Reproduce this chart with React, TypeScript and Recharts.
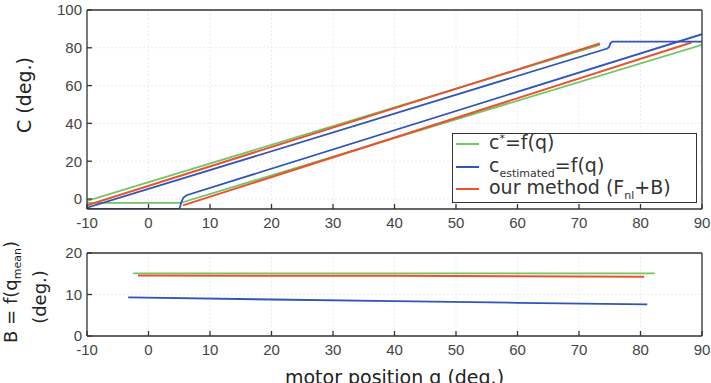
import React from 'react';
import { LineChart, Line, XAxis, YAxis, CartesianGrid, Legend } from 'recharts';

// Hysteresis branches: motor position q (deg.) against joint angle C (deg.)
const cStarUpperQ = [-10, 73.4];
const cStarUpperC = [-1.0, 81.5];
const cStarLowerQ = [-10, 5.3, 5.7, 90];
const cStarLowerC = [-2.1, -2.1, -1.6, 81.6];

const cEstUpperQ = [-10, 74.6, 74.9, 75.1, 75.4, 90];
const cEstUpperC = [-4.6, 79.6, 80.4, 82.4, 83.3, 83.3];
const cEstLowerQ = [-10, 5.0, 5.15, 5.35, 5.7, 6.2, 90];
const cEstLowerC = [-5.3, -5.3, -4.0, -1.5, 0.8, 2.0, 87.2];

const oursUpperQ = [-10, 73.4];
const oursUpperC = [-3.3, 82.3];
const oursLowerQ = [5.6, 88.3];
const oursLowerC = [-3.4, 82.8];

// Backlash B as a function of the mean motor position
const bStarQ = [-2.5, 82.3];
const bStarV = [15.1, 15.1];
const bEstQ = [-3.3, 20, 40, 60, 81.1];
const bEstV = [9.3, 8.8, 8.4, 8.0, 7.6];
const bOursQ = [-1.7, 20, 40, 60, 80.6];
const bOursV = [14.6, 14.5, 14.5, 14.4, 14.3];

const qTicks = [-10, 0, 10, 20, 30, 40, 50, 60, 70, 80, 90];
const cTicks = [0, 20, 40, 60, 80, 100];
const bTicks = [0, 10, 20];

const qDomain: [number, number] = [-10, 90];
const cDomain: [number, number] = [-5.3, 100];
const bDomain: [number, number] = [0, 20];

const GREEN = '#72c466';
const BLUE = '#2f55b8';
const RED = '#e9532c';
const AXIS = '#333333';

const toPoints = (q: number[], v: number[]) => q.map((x, i) => ({ q: x, v: v[i] }));

const tickFont = { fill: '#444444', fontSize: 15, fontFamily: 'Liberation Sans, Arial, sans-serif' };
const titleFont: React.CSSProperties = {
  fontFamily: 'DejaVu Sans, sans-serif',
  fontSize: 19,
  fill: '#222222',
};

const CTitle = () => (
  <text transform="rotate(-90 31 95)" x={31} y={95} textAnchor="middle" style={titleFont}>
    C (deg.)
  </text>
);

const BTitle = () => (
  <g>
    <text transform="rotate(-90 17 64)" x={17} y={64} textAnchor="middle" style={{ ...titleFont, fontSize: 18 }}>
      B = f(q<tspan fontSize={11} dy={4}>mean</tspan>
      <tspan dy={-4}>)</tspan>
    </text>
    <text transform="rotate(-90 46 69)" x={46} y={69} textAnchor="middle" style={{ ...titleFont, fontSize: 18 }}>
      (deg.)
    </text>
  </g>
);

const QTitle = (props: any) => {
  const vb = props.viewBox || { x: 87, y: 108, width: 615, height: 47 };
  return (
    <text x={vb.x + vb.width / 2} y={vb.y + vb.height + 1} textAnchor="middle" style={titleFont}>
      motor position q (deg.)
    </text>
  );
};

const legendRows = [
  { color: GREEN, top: 10, body: <span>c<span style={{ fontSize: 11, position: 'relative', top: -7 }}>*</span>=f(q)</span> },
  { color: BLUE, top: 32.5, body: <span>c<span style={{ fontSize: 11, position: 'relative', top: 5 }}>estimated</span>=f(q)</span> },
  { color: RED, top: 55, body: <span>our method (F<span style={{ fontSize: 11, position: 'relative', top: 5 }}>nl</span>+B)</span> },
];

const LegendBox = () => (
  <div
    style={{
      position: 'relative',
      width: 245,
      height: 70,
      boxSizing: 'border-box',
      border: `1px solid ${AXIS}`,
      background: '#ffffff',
      fontFamily: 'DejaVu Sans, sans-serif',
      fontSize: 19,
      color: '#333333',
    }}
  >
    {legendRows.map((r, i) => (
      <div
        key={i}
        style={{ position: 'absolute', left: 2, top: r.top - 11, height: 22, display: 'flex', alignItems: 'center', whiteSpace: 'nowrap' }}
      >
        <svg width={24} height={22} style={{ display: 'block' }}>
          <line x1={1} y1={11} x2={24} y2={11} stroke={r.color} strokeWidth={2} />
        </svg>
        <span style={{ marginLeft: 10, lineHeight: '22px' }}>{r.body}</span>
      </div>
    ))}
  </div>
);

const lineProps = { type: 'linear' as const, dataKey: 'v', dot: false, isAnimationActive: false, strokeWidth: 1.8 };

export default function App() {
  return (
    <div style={{ position: 'absolute', left: 0, top: 0, width: 711, height: 383, background: '#ffffff', overflow: 'hidden' }}>
      <div style={{ position: 'absolute', left: 0, top: 0 }}>
        <LineChart width={711} height={232} margin={{ top: 9, right: 8, bottom: 0, left: 0 }}>
          <CartesianGrid stroke="#ececec" strokeDasharray="2 2" />
          <XAxis
            dataKey="q"
            type="number"
            domain={qDomain}
            ticks={qTicks}
            interval={0}
            height={23}
            tickSize={-5}
            tickMargin={13}
            tick={tickFont}
            stroke={AXIS}
            strokeWidth={1.3}
            allowDataOverflow
          />
          <XAxis xAxisId="t" orientation="top" type="number" domain={qDomain} ticks={qTicks} interval={0} height={1} tickSize={-5} tick={false} stroke={AXIS} strokeWidth={1.3} />
          <YAxis
            type="number"
            domain={cDomain}
            ticks={cTicks}
            interval={0}
            width={87}
            tickSize={-5}
            tickMargin={10}
            tick={tickFont}
            stroke={AXIS}
            strokeWidth={1.3}
            allowDataOverflow
            label={{ content: CTitle }}
          />
          <YAxis yAxisId="r" orientation="right" type="number" domain={cDomain} ticks={cTicks} interval={0} width={1} tickSize={-5} tick={false} stroke={AXIS} strokeWidth={1.3} />
          <Line {...lineProps} data={toPoints(cStarUpperQ, cStarUpperC)} stroke={GREEN} />
          <Line {...lineProps} data={toPoints(cStarLowerQ, cStarLowerC)} stroke={GREEN} />
          <Line {...lineProps} data={toPoints(oursUpperQ, oursUpperC)} stroke={RED} strokeWidth={2} />
          <Line {...lineProps} data={toPoints(oursLowerQ, oursLowerC)} stroke={RED} strokeWidth={2} />
          <Line {...lineProps} data={toPoints(cEstUpperQ, cEstUpperC)} stroke={BLUE} />
          <Line {...lineProps} data={toPoints(cEstLowerQ, cEstLowerC)} stroke={BLUE} />
          <Legend
            layout="vertical"
            align="center"
            verticalAlign="middle"
            wrapperStyle={{ left: 452, top: 133, width: 245, height: 70 }}
            content={() => <LegendBox />}
          />
        </LineChart>
      </div>
      <div style={{ position: 'absolute', left: 0, top: 228 }}>
        <LineChart width={711} height={155} margin={{ top: 24, right: 8, bottom: 0, left: 0 }}>
          <CartesianGrid stroke="#ececec" strokeDasharray="2 2" />
          <XAxis
            dataKey="q"
            type="number"
            domain={qDomain}
            ticks={qTicks}
            interval={0}
            height={47}
            tickSize={-5}
            tickMargin={13}
            tick={tickFont}
            stroke={AXIS}
            strokeWidth={1.3}
            label={{ content: QTitle }}
          />
          <XAxis xAxisId="t" orientation="top" type="number" domain={qDomain} ticks={qTicks} interval={0} height={1} tickSize={-5} tick={false} stroke={AXIS} strokeWidth={1.3} />
          <YAxis
            type="number"
            domain={bDomain}
            ticks={bTicks}
            interval={0}
            width={87}
            tickSize={-5}
            tickMargin={10}
            tick={tickFont}
            stroke={AXIS}
            strokeWidth={1.3}
            label={{ content: BTitle }}
          />
          <YAxis yAxisId="r" orientation="right" type="number" domain={bDomain} ticks={bTicks} interval={0} width={1} tickSize={-5} tick={false} stroke={AXIS} strokeWidth={1.3} />
          <Line {...lineProps} data={toPoints(bStarQ, bStarV)} stroke={GREEN} />
          <Line {...lineProps} data={toPoints(bOursQ, bOursV)} stroke={RED} strokeWidth={2} />
          <Line {...lineProps} data={toPoints(bEstQ, bEstV)} stroke={BLUE} />
        </LineChart>
      </div>
    </div>
  );
}
